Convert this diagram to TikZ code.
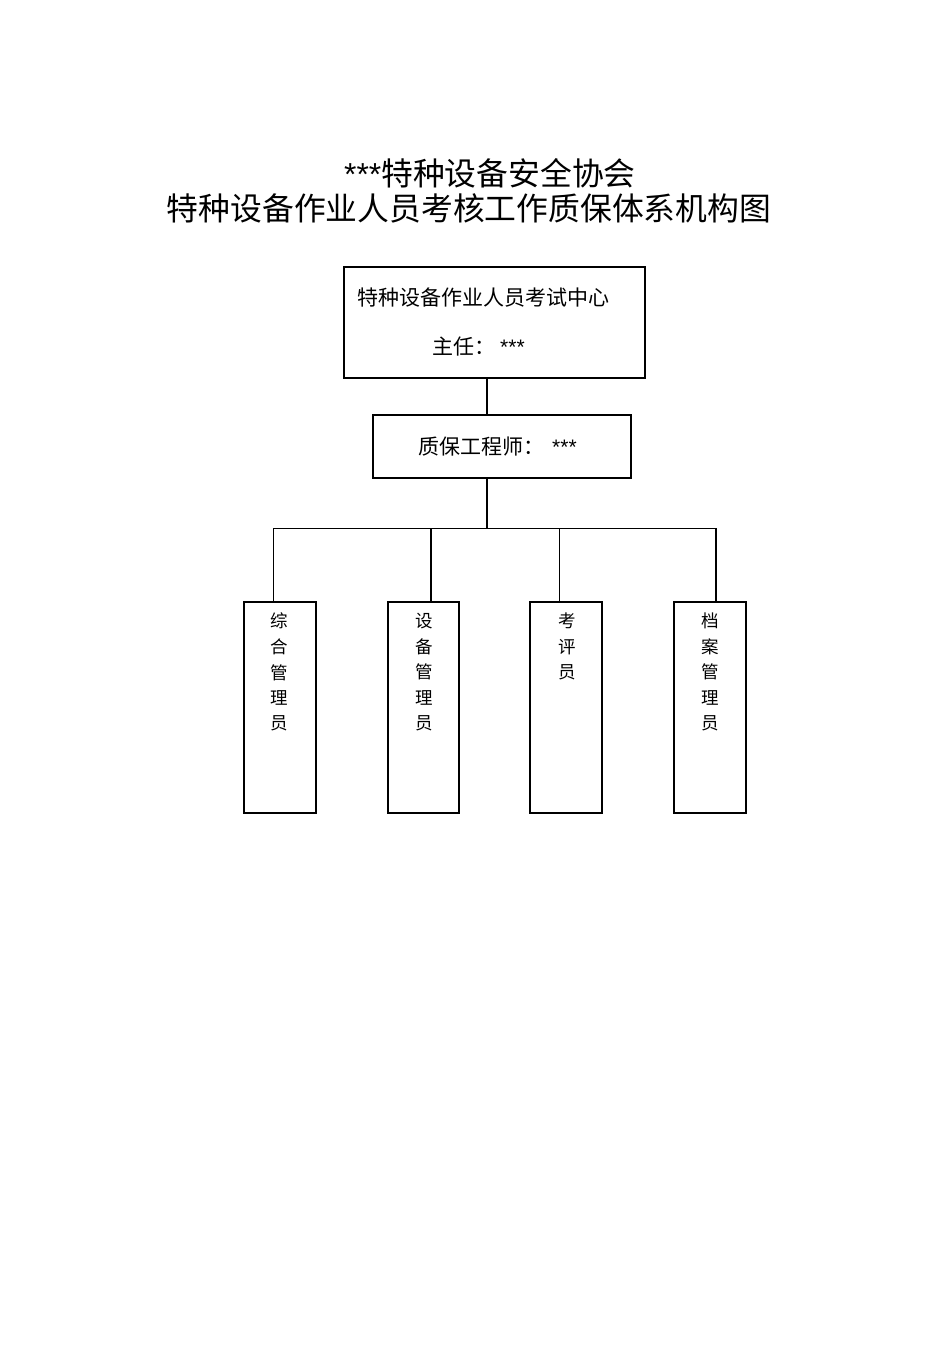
\documentclass[tikz,border=0pt]{standalone}
\usepackage{fontspec}
\setmainfont{Liberation Sans}
\newfontfamily\cjk{Noto Sans CJK SC}
\begin{document}
\begin{tikzpicture}[x=1pt,y=-1pt,
  box/.style={draw=black,line width=1.5pt,inner sep=0pt},
  trunk/.style={line width=2pt},
  branch/.style={line width=1pt},
  vtext/.style={anchor=north,align=center,inner sep=0pt,font=\cjk\fontsize{17.5}{25.5}\selectfont}]
\useasboundingbox[fill=white] (0,0) rectangle (950,1345);
% titles
\node[inner sep=0pt] (t1) at (490,173) {\fontsize{31.8}{36}\selectfont ***{\cjk 特种设备安全协会}};
\node[inner sep=0pt] (t2) at (469,208) {\cjk\fontsize{31.8}{36}\selectfont 特种设备作业人员考核工作质保体系机构图};
% top box
\draw[box] (344,267) rectangle (645,378);
\coordinate (topb) at (487,378);
\node[anchor=west,inner sep=0pt] (c1) at (357,298) {\cjk\fontsize{21}{25}\selectfont 特种设备作业人员考试中心};
\node[anchor=west,inner sep=0pt] (c2) at (432,347) {\fontsize{21}{25}\selectfont{\cjk 主任：}\hspace{5pt}***};
% second box
\draw[box] (373,415) rectangle (631,478);
\coordinate (midt) at (487,415);
\coordinate (midb) at (487,478);
\node[anchor=west,inner sep=0pt] (q) at (418,447) {\fontsize{21}{25}\selectfont{\cjk 质保工程师：}\hspace{8pt}***};
% connectors
\draw[trunk] (topb) -- (midt);
\coordinate (j) at (487,528);
\draw[trunk] (midb) -- (j);
\coordinate (h1) at (273,528);
\coordinate (h2) at (431,528);
\coordinate (h3) at (559,528);
\coordinate (h4) at (716,528);
\draw[branch] (h1) -- (h4);
\coordinate (b1) at (273,602);
\coordinate (b2) at (431,602);
\coordinate (b3) at (559,602);
\coordinate (b4) at (716,602);
\draw[branch] (h1) -- (b1);
\draw[line width=1.5pt] (h2) -- (b2);
\draw[branch] (h3) -- (b3);
\draw[line width=1.5pt] (h4) -- (b4);
% bottom boxes
\draw[box] (244,602) rectangle (316,813);
\draw[box] (388,602) rectangle (459,813);
\draw[box] (530,602) rectangle (602,813);
\draw[box] (674,602) rectangle (746,813);
\node[vtext] (s1) at (279,613) {综\\合\\管\\理\\员};
\node[vtext] (s2) at (424,613) {设\\备\\管\\理\\员};
\node[vtext] (s3) at (567,613) {考\\评\\员};
\node[vtext] (s4) at (710,613) {档\\案\\管\\理\\员};
\end{tikzpicture}
\end{document}
